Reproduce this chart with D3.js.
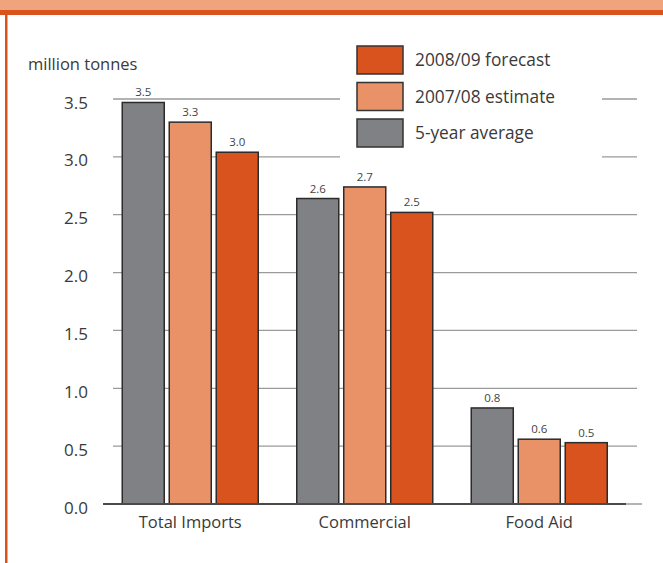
<!DOCTYPE html>
<html>
<head>
<meta charset="utf-8">
<script src="https://cdn.jsdelivr.net/npm/d3@7"></script>
<style>
  html, body { margin: 0; padding: 0; background: #fff; }
  svg { display: block; font-family: "Open Sans", "Noto Sans", sans-serif; }
</style>
</head>
<body>
<svg id="chart" width="663" height="563"></svg>
<script>
// Cereal import requirements, million tonnes
const categories = ["Total Imports", "Commercial", "Food Aid"];
const seriesNames = ["5-year average", "2007/08 estimate", "2008/09 forecast"];
const avg5yr     = [3.47, 2.64, 0.83];
const est0708    = [3.30, 2.74, 0.56];
const fcst0809   = [3.04, 2.52, 0.53];
const yTicks = [0, 0.5, 1.0, 1.5, 2.0, 2.5, 3.0, 3.5];

const seriesValues = [avg5yr, est0708, fcst0809];
const colors = ["#808184", "#e99268", "#d9531e"];
const legendOrder = [2, 1, 0];

const svg = d3.select("#chart");

// page frame: band across the top, rule down the left edge
svg.append("rect").attr("x", 0).attr("y", 0).attr("width", 663).attr("height", 11).attr("fill", "#efa47c");
svg.append("rect").attr("x", 0).attr("y", 10).attr("width", 663).attr("height", 5).attr("fill", "#d9531e");
svg.append("rect").attr("x", 5).attr("y", 12).attr("width", 2.5).attr("height", 551).attr("fill", "#d9531e");

const y = d3.scaleLinear().domain([0, 3.5]).range([504, 99]);
const x0 = d3.scaleBand().domain(categories).range([103, 626.5]).padding(0);
const groupW = 136;
const x1 = d3.scaleBand().domain(d3.range(seriesNames.length)).range([0, groupW]).paddingInner(0.106).paddingOuter(0);
const groupOff = (x0.bandwidth() - groupW) / 2;

// gridlines
const grid = svg.append("g");
yTicks.filter(t => t > 0).forEach(t => {
  grid.append("line")
    .attr("x1", 113).attr("x2", 637)
    .attr("y1", y(t)).attr("y2", y(t))
    .attr("stroke", "#9a9a9a").attr("stroke-width", 1.3);
});
grid.append("line").attr("x1", 113).attr("x2", 642).attr("y1", y(0)).attr("y2", y(0))
  .attr("stroke", "#9a9a9a").attr("stroke-width", 1.3);

// y tick labels
svg.append("g").selectAll("text").data(yTicks).join("text")
  .attr("x", 88).attr("y", d => y(d) + 9.5)
  .attr("text-anchor", "end")
  .attr("font-size", 17).attr("fill", "#3a3a3a")
  .text(d => d.toFixed(1));

svg.append("text").attr("x", 28).attr("y", 70)
  .attr("font-size", 16.5).attr("fill", "#3a3a3a").text("million tonnes");

// bars
const rows = [];
categories.forEach((c, ci) => {
  seriesValues.forEach((vals, si) => rows.push({ c, si, v: vals[ci] }));
});
const bx = d => x0(d.c) + groupOff + x1(d.si);

svg.append("g").selectAll("rect").data(rows).join("rect")
  .attr("x", bx)
  .attr("y", d => y(d.v))
  .attr("width", x1.bandwidth())
  .attr("height", d => y(0) - y(d.v))
  .attr("fill", d => colors[d.si])
  .attr("stroke", "#2b2b2b").attr("stroke-width", 1.5);

// value labels
svg.append("g").selectAll("text").data(rows).join("text")
  .attr("x", d => bx(d) + x1.bandwidth() / 2)
  .attr("y", d => y(d.v) - 6)
  .attr("text-anchor", "middle")
  .attr("font-size", 11.5).attr("fill", "#444")
  .text(d => d.v.toFixed(1));

// baseline
svg.append("line").attr("x1", 103).attr("x2", 626).attr("y1", y(0)).attr("y2", y(0))
  .attr("stroke", "#4a4a4a").attr("stroke-width", 2);

// category labels
svg.append("g").selectAll("text").data(categories).join("text")
  .attr("x", d => x0(d) + x0.bandwidth() / 2)
  .attr("y", 528)
  .attr("text-anchor", "middle")
  .attr("font-size", 16.5).attr("fill", "#3a3a3a")
  .text(d => d);

// legend (white panel hides the gridlines behind it)
const lg = svg.append("g");
lg.append("rect").attr("x", 340).attr("y", 40).attr("width", 262).attr("height", 120).attr("fill", "#fff");
legendOrder.forEach((si, i) => {
  const ly = 46 + i * 36.5;
  lg.append("rect").attr("x", 357).attr("y", ly).attr("width", 46).attr("height", 28)
    .attr("fill", colors[si]).attr("stroke", "#333").attr("stroke-width", 1.5);
  lg.append("text").attr("x", 415).attr("y", ly + 20)
    .attr("font-size", 17.3).attr("fill", "#3a3a3a").text(seriesNames[si]);
});
</script>
</body>
</html>
